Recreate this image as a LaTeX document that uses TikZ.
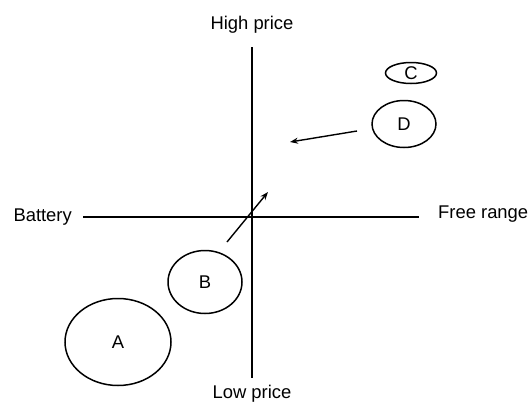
\documentclass[tikz,border=0pt]{standalone}
\usepackage{fontspec}
\setmainfont{Liberation Sans}
\usetikzlibrary{arrows.meta, shapes.geometric, positioning}

\begin{document}
\begin{tikzpicture}[
  x=1pt, y=-1pt,
  axislabel/.style={font=\fontsize{18.4}{20}\selectfont, inner sep=0pt},
  blob/.style={ellipse, draw=black, line width=1.5pt, inner sep=0pt,
               font=\fontsize{18.4}{20}\selectfont},
  axis/.style={line width=1.2pt},
  arr/.style={-{Stealth[length=8pt, width=6pt]}, line width=1.4pt}
]
\useasboundingbox (0,0) rectangle (532,402);

% --- Axes ---
\coordinate (top)   at (252,47);
\coordinate (bot)   at (252,378);
\coordinate (left)  at (83,217);
\coordinate (right) at (419,217);
\draw[axis] (top) -- (bot);
\draw[axis] (left) -- (right);
\draw[line width=2.4pt] (133,217) -- (212,217);

\node[axislabel, above=13pt of top]  (high) {High price};
\node[axislabel, below=7pt of bot]   (low)  {Low price};
\node[axislabel, left=11pt of left]  (batt) {Battery};
\node[axislabel, right=19pt of right, yshift=3pt] (free) {Free range};

% --- Producers ---
\node[blob, minimum width=106pt, minimum height=87pt] (A) at (118,342) {A};
\node[blob, minimum width=74pt,  minimum height=63pt] (B) at (205,282) {B};
\node[blob, minimum width=51pt,  minimum height=21pt] (C) at (411,73)  {C};
\node[blob, minimum width=64pt,  minimum height=47pt] (D) at (404,124) {D};

% --- Movements ---
\coordinate (b0) at (227,242);
\coordinate (b1) at (268,192);
\coordinate (d0) at (357,131);
\coordinate (d1) at (290,142);
\draw[arr] (b0) -- (b1);
\draw[arr] (d0) -- (d1);

\end{tikzpicture}
\end{document}
